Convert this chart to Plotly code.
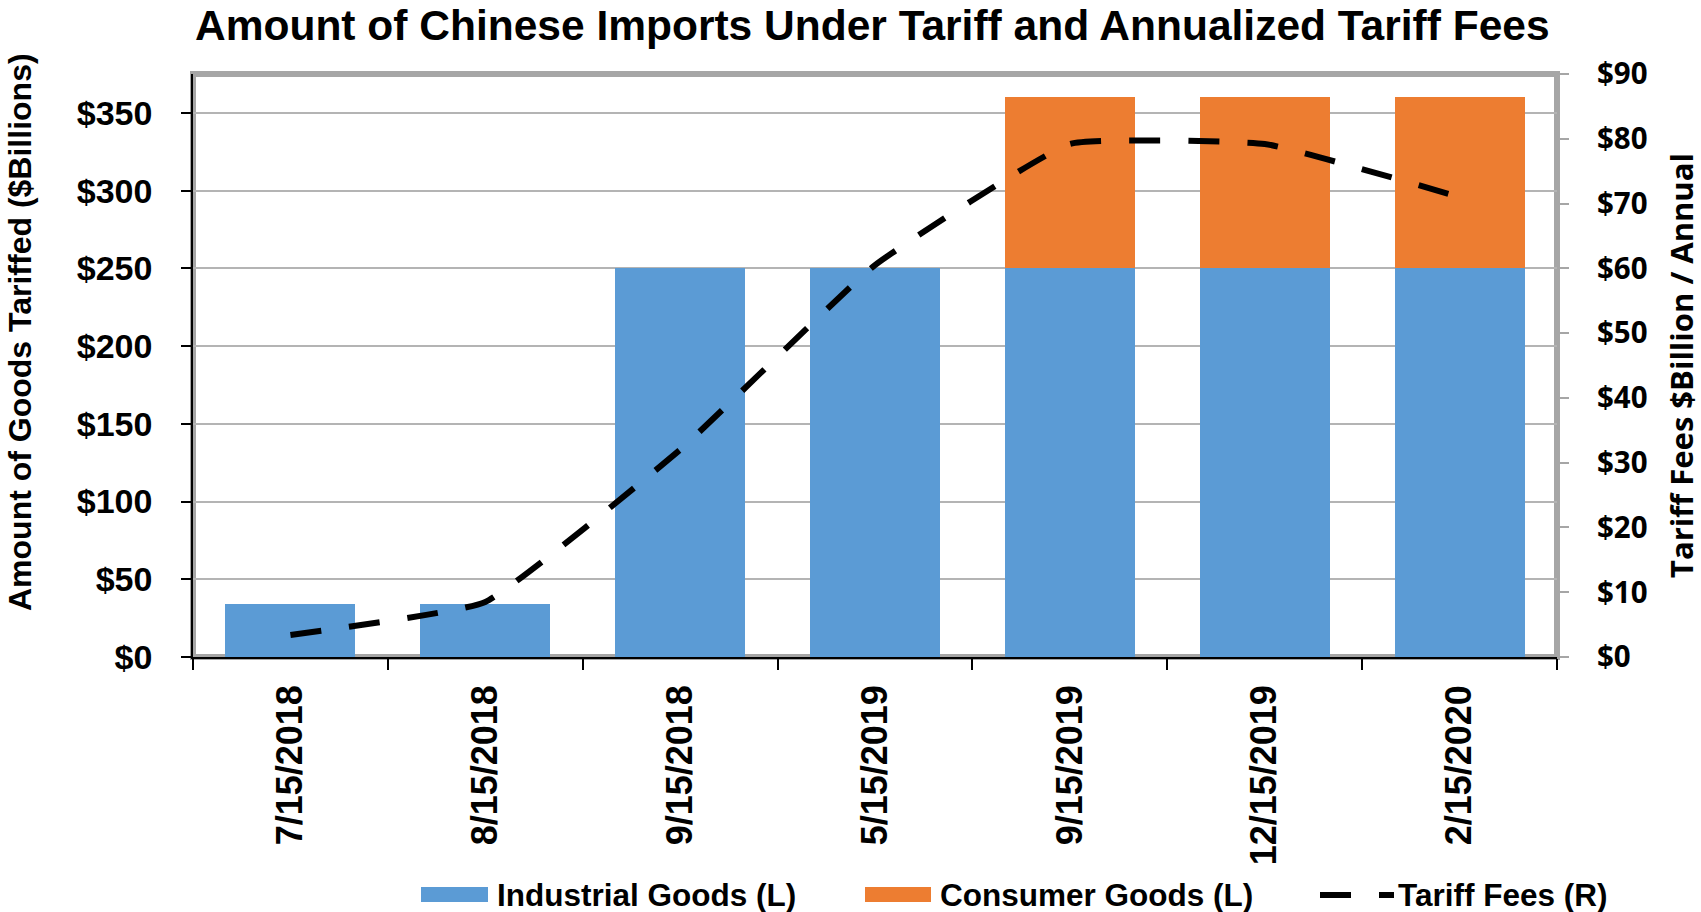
import plotly.graph_objects as go

# ---------------- data ----------------
categories = ["7/15/2018", "8/15/2018", "9/15/2018", "5/15/2019",
              "9/15/2019", "12/15/2019", "2/15/2020"]
industrial_goods = [34, 34, 250, 250, 250, 250, 250]
consumer_goods = [0, 0, 0, 0, 110, 110, 110]
tariff_fees = [3.4, 8.5, 32, 60.5, 79.2, 79.2, 71]
left_tick_vals = [0, 50, 100, 150, 200, 250, 300, 350]
right_tick_vals = [0, 10, 20, 30, 40, 50, 60, 70, 80, 90]
left_tick_text = ["$" + str(v) for v in left_tick_vals]
right_tick_text = ["$" + str(v) for v in right_tick_vals]

title_text = "Amount of Chinese Imports Under Tariff and Annualized Tariff Fees"
left_title = "Amount of Goods Tariffed ($Billions)"
right_title = "Tariff Fees $Billion / Annual"
legend_labels = ["Industrial Goods (L)", "Consumer Goods (L)", "Tariff Fees (R)"]

# ---------------- style ----------------
W, H = 1701, 912
L, R, T, B = 193, 1557, 74, 657
BLUE = "#5B9BD5"
ORANGE = "#ED7D31"
FRAME = "#A6A6A6"
GRID = "#B4B4B4"
ARIAL = "Liberation Sans, Arial, sans-serif"
CALI = "Open Sans, Lato, sans-serif"
DASH = "31px,28px"


def px(x):
    return (x - L) / (R - L)


def py(y):
    return (B - y) / (B - T)


fig = go.Figure()
fig.add_trace(go.Bar(x=categories, y=industrial_goods, name=legend_labels[0],
                     marker=dict(color=BLUE, line=dict(width=0)), yaxis="y"))
fig.add_trace(go.Bar(x=categories, y=consumer_goods, name=legend_labels[1],
                     marker=dict(color=ORANGE, line=dict(width=0)), yaxis="y"))
fig.add_trace(go.Scatter(x=categories, y=tariff_fees, name=legend_labels[2],
                         mode="lines", yaxis="y2",
                         line=dict(color="black", width=6, dash=DASH,
                                   shape="spline", smoothing=0.35)))

fig.update_layout(
    width=W, height=H,
    margin=dict(l=L, r=W - R, t=T, b=H - B, pad=0),
    paper_bgcolor="white", plot_bgcolor="white",
    barmode="stack", bargap=0.333,
    showlegend=False,
    xaxis=dict(type="category", range=[-0.5, 6.5], tickson="boundaries",
               ticks="outside", ticklen=11, tickwidth=1.5, tickcolor="black",
               showline=True, linecolor="black", linewidth=1.5,
               tickangle=-90, ticklabelstandoff=12, automargin=False,
               tickfont=dict(family=ARIAL, size=36, color="black", weight="bold"),
               showgrid=False, zeroline=False),
    yaxis=dict(range=[0, 375], tickmode="array", tickvals=left_tick_vals,
               ticktext=left_tick_text,
               ticks="outside", ticklen=10, tickwidth=1.5, tickcolor="black",
               showline=True, linecolor="black", linewidth=1.5,
               ticklabelstandoff=22, automargin=False,
               tickfont=dict(family=ARIAL, size=34, color="black", weight="bold"),
               showgrid=True, gridcolor=GRID, gridwidth=1.5, zeroline=False),
    yaxis2=dict(range=[0, 90], tickmode="array", tickvals=right_tick_vals,
                ticktext=right_tick_text,
                overlaying="y", side="right",
                ticks="outside", ticklen=11, tickwidth=2, tickcolor=FRAME,
                showline=False, ticklabelstandoff=22, automargin=False,
                tickfont=dict(family=CALI, size=29.5, color="black", weight="bold"),
                showgrid=False, zeroline=False),
)

# plot-area frame (grey border)
fig.add_shape(type="rect", xref="paper", yref="paper", x0=0, x1=1, y0=0, y1=1,
              line=dict(color=FRAME, width=6), layer="below")

# title
fig.add_annotation(text=title_text, xref="paper", yref="paper",
                   x=px(872), y=py(1), xanchor="center", yanchor="top",
                   showarrow=False, borderpad=0,
                   font=dict(family=ARIAL, size=42.5, color="black", weight="bold"))
# axis titles
fig.add_annotation(text=left_title, xref="paper", yref="paper",
                   x=px(20), y=py(332), xanchor="center", yanchor="middle",
                   textangle=-90, showarrow=False,
                   font=dict(family=ARIAL, size=32, color="black", weight="bold"))
fig.add_annotation(text=right_title, xref="paper", yref="paper",
                   x=px(1681), y=py(366), xanchor="center", yanchor="middle",
                   textangle=-90, showarrow=False,
                   font=dict(family=CALI, size=31, color="black", weight="bold"))

# custom legend
LY = 895
fig.add_shape(type="rect", xref="paper", yref="paper",
              x0=px(421), x1=px(488), y0=py(902), y1=py(887),
              fillcolor=BLUE, line=dict(width=0))
fig.add_shape(type="rect", xref="paper", yref="paper",
              x0=px(865), x1=px(931), y0=py(902), y1=py(887),
              fillcolor=ORANGE, line=dict(width=0))
fig.add_shape(type="line", xref="paper", yref="paper",
              x0=px(1320), x1=px(1394), y0=py(LY), y1=py(LY),
              line=dict(color="black", width=6, dash=DASH))
for label, x0 in zip(legend_labels, [495, 938, 1396]):
    fig.add_annotation(text=label, xref="paper", yref="paper",
                       x=px(x0), y=py(LY), xanchor="left", yanchor="middle",
                       showarrow=False,
                       font=dict(family=ARIAL, size=31.5, color="black", weight="bold"))

fig.write_html("out.html",
               config={"displayModeBar": False},
               post_script="document.body.style.margin='0px';"
                           "document.body.style.overflow='hidden';")
